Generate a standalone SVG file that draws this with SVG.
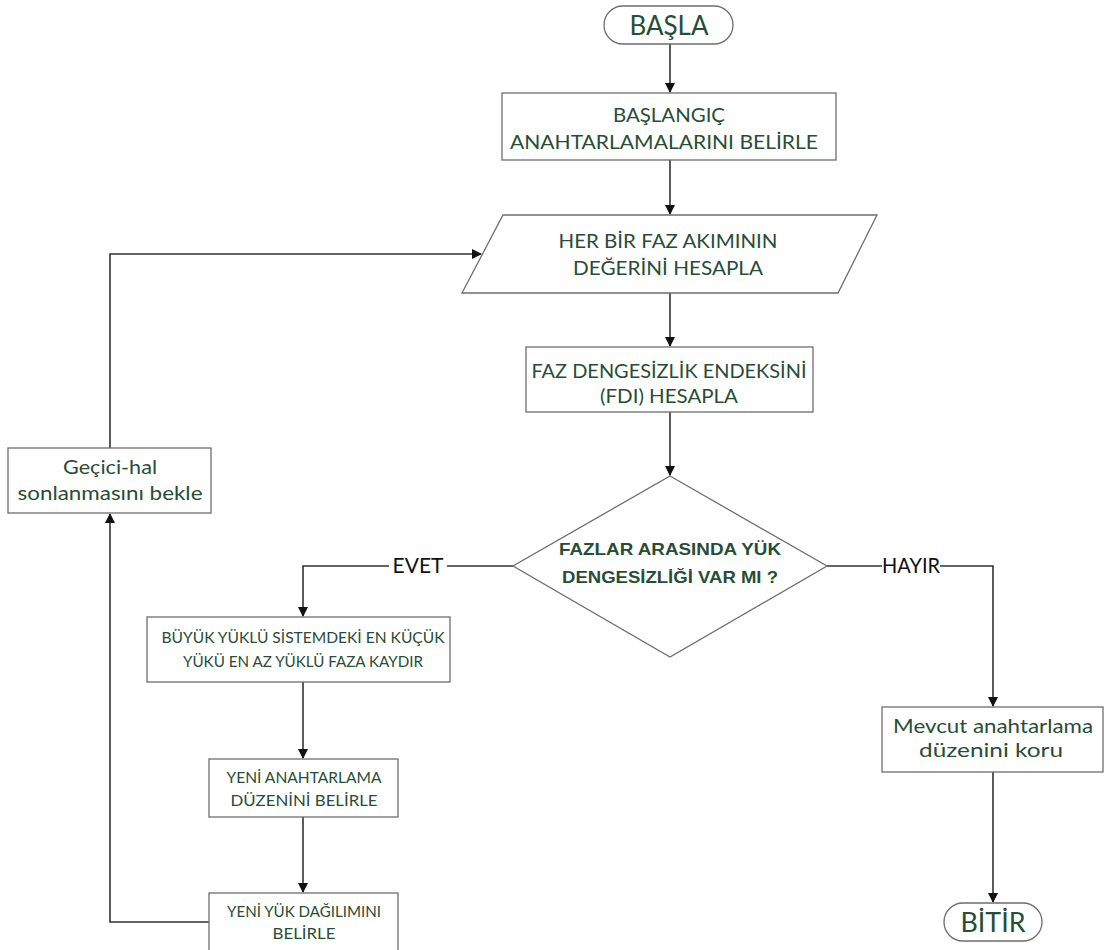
<svg xmlns="http://www.w3.org/2000/svg" width="1105" height="950" viewBox="0 0 1105 950">
<defs>
<marker id="arr" markerWidth="10" markerHeight="12" refX="9" refY="5" orient="auto" markerUnits="userSpaceOnUse">
<path d="M0,0 L10,5 L0,10 Z" fill="#111"/>
</marker>
<style>
.shape{fill:#fff;stroke:#6e6e6e;stroke-width:1.3}
.t{font-family:Lato,"Open Sans","Noto Sans",sans-serif;fill:#284d36;text-anchor:middle}
.b{font-family:"Liberation Sans",Arial,sans-serif;font-weight:bold;fill:#284d36;text-anchor:middle}
.lbl{font-family:Lato,"Open Sans",sans-serif;fill:#111;text-anchor:middle}
.c{fill:none;stroke:#333;stroke-width:1.6}
</style>
</defs>
<rect width="1105" height="950" fill="#fff"/>
<g id="connectors">
<path class="c" d="M670,44 V92" marker-end="url(#arr)"/>
<path class="c" d="M670,160 V214" marker-end="url(#arr)"/>
<path class="c" d="M670,293 V346" marker-end="url(#arr)"/>
<path class="c" d="M670,412 V475" marker-end="url(#arr)"/>
<path class="c" d="M513,566 H447"/>
<path class="c" d="M389,566 H303 V616" marker-end="url(#arr)"/>
<path class="c" d="M827,566 H882"/>
<path class="c" d="M940,566 H993 V706" marker-end="url(#arr)"/>
<path class="c" d="M303,682 V758" marker-end="url(#arr)"/>
<path class="c" d="M303,817 V892" marker-end="url(#arr)"/>
<path class="c" d="M209,922 H110 V514" marker-end="url(#arr)"/>
<path class="c" d="M110,448 V254 H481" marker-end="url(#arr)"/>
<path class="c" d="M993,772 V902" marker-end="url(#arr)"/>
<text class="lbl" x="418" y="573" font-size="21">EVET</text>
<text class="lbl" x="911" y="573" font-size="21" textLength="58" lengthAdjust="spacingAndGlyphs">HAYIR</text>
</g>
<g id="start">
<rect class="shape" x="604" y="6" width="129" height="38" rx="19"/>
<text class="t" x="669" y="35" font-size="27" textLength="79" lengthAdjust="spacingAndGlyphs">BAŞLA</text>
</g>
<g id="init">
<rect class="shape" x="502" y="93" width="334" height="67"/>
<text class="t" x="669" y="122" font-size="20" textLength="112" lengthAdjust="spacingAndGlyphs">BAŞLANGIÇ</text>
<text class="t" x="664" y="149" font-size="20" textLength="308" lengthAdjust="spacingAndGlyphs">ANAHTARLAMALARINI BELİRLE</text>
</g>
<g id="phase">
<polygon class="shape" points="503,215 877,215 838,293 462,293"/>
<text class="t" x="668" y="248" font-size="20" textLength="219" lengthAdjust="spacingAndGlyphs">HER BİR FAZ AKIMININ</text>
<text class="t" x="668" y="275" font-size="20" textLength="190" lengthAdjust="spacingAndGlyphs">DEĞERİNİ HESAPLA</text>
</g>
<g id="fdi">
<rect class="shape" x="526" y="347" width="287" height="65"/>
<text class="t" x="669" y="378" font-size="20" textLength="275" lengthAdjust="spacingAndGlyphs">FAZ DENGESİZLİK ENDEKSİNİ</text>
<text class="t" x="669" y="403" font-size="20" textLength="138" lengthAdjust="spacingAndGlyphs">(FDI) HESAPLA</text>
</g>
<g id="decision">
<polygon class="shape" points="670,476 827,566 670,657 513,566"/>
<text class="b" x="670" y="555" font-size="16.5" textLength="222" lengthAdjust="spacingAndGlyphs">FAZLAR ARASINDA YÜK</text>
<text class="b" x="670" y="583" font-size="16.5" textLength="216" lengthAdjust="spacingAndGlyphs">DENGESİZLİĞİ VAR MI ?</text>
</g>
<g id="shift">
<rect class="shape" x="147" y="617" width="303" height="65"/>
<text class="t" x="303" y="643" font-size="15" textLength="283" lengthAdjust="spacingAndGlyphs">BÜYÜK YÜKLÜ SİSTEMDEKİ EN KÜÇÜK</text>
<text class="t" x="303" y="667" font-size="15" textLength="240" lengthAdjust="spacingAndGlyphs">YÜKÜ EN AZ YÜKLÜ FAZA KAYDIR</text>
</g>
<g id="newswitch">
<rect class="shape" x="209" y="759" width="189" height="58"/>
<text class="t" x="304" y="783" font-size="15" textLength="155" lengthAdjust="spacingAndGlyphs">YENİ ANAHTARLAMA</text>
<text class="t" x="304" y="806" font-size="15" textLength="147" lengthAdjust="spacingAndGlyphs">DÜZENİNİ BELİRLE</text>
</g>
<g id="newload">
<rect class="shape" x="209" y="893" width="189" height="70"/>
<text class="t" x="304" y="917" font-size="15" textLength="154" lengthAdjust="spacingAndGlyphs">YENİ YÜK DAĞILIMINI</text>
<text class="t" x="304" y="939" font-size="15" textLength="63" lengthAdjust="spacingAndGlyphs">BELİRLE</text>
</g>
<g id="wait">
<rect class="shape" x="8" y="448" width="203" height="65"/>
<text class="t" x="110" y="474" font-size="20" textLength="94" lengthAdjust="spacingAndGlyphs">Geçici-hal</text>
<text class="t" x="110" y="500" font-size="20" textLength="185" lengthAdjust="spacingAndGlyphs">sonlanmasını bekle</text>
</g>
<g id="keep">
<rect class="shape" x="882" y="707" width="221" height="65"/>
<text class="t" x="993" y="733" font-size="20" textLength="200" lengthAdjust="spacingAndGlyphs">Mevcut anahtarlama</text>
<text class="t" x="991" y="757" font-size="20" textLength="144" lengthAdjust="spacingAndGlyphs">düzenini koru</text>
</g>
<g id="end">
<rect class="shape" x="944" y="903" width="98" height="38" rx="19"/>
<text class="t" x="993" y="932" font-size="27" textLength="65" lengthAdjust="spacingAndGlyphs">BİTİR</text>
</g>
</svg>
